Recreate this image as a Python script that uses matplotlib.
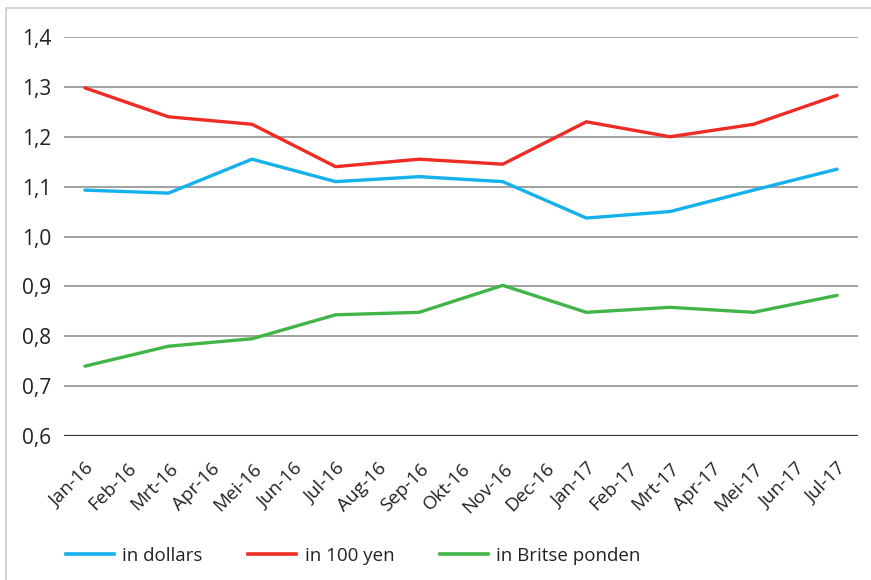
import matplotlib
matplotlib.use("Agg")
import matplotlib.pyplot as plt
from matplotlib.patches import Rectangle
from matplotlib.lines import Line2D

months = ["Jan-16", "Feb-16", "Mrt-16", "Apr-16", "Mei-16", "Jun-16", "Jul-16", "Aug-16",
          "Sep-16", "Okt-16", "Nov-16", "Dec-16", "Jan-17", "Feb-17", "Mrt-17", "Apr-17",
          "Mei-17", "Jun-17", "Jul-17"]
point_months = ["Jan-16", "Mrt-16", "Mei-16", "Jul-16", "Sep-16", "Nov-16",
                "Jan-17", "Mrt-17", "Mei-17", "Jul-17"]
dollars = [1.093, 1.087, 1.155, 1.110, 1.120, 1.110, 1.037, 1.050, 1.093, 1.135]
yen100 = [1.298, 1.240, 1.225, 1.140, 1.155, 1.145, 1.230, 1.200, 1.225, 1.283]
pounds = [0.740, 0.780, 0.795, 0.843, 0.848, 0.902, 0.848, 0.858, 0.848, 0.882]
yticks = [0.6, 0.7, 0.8, 0.9, 1.0, 1.1, 1.2, 1.3, 1.4]
series_names = ["in dollars", "in 100 yen", "in Britse ponden"]
colors = ["#14B1EC", "#EE2B24", "#42B549"]

plt.rcParams['font.family'] = ['Open Sans', 'DejaVu Sans']

W, H = 871, 580
fig = plt.figure(figsize=(W / 100, H / 100), dpi=100)
fig.patches.append(Rectangle((6 / W, -0.1), 1.2, 1 - 8 / H + 0.1, transform=fig.transFigure,
                             fill=False, edgecolor="#cccccc", linewidth=1.2))

ax = fig.add_axes([64 / W, 1 - 436 / H, (858 - 64) / W, (436 - 37) / H])
xi = {m: i for i, m in enumerate(months)}
xs = [xi[m] for m in point_months]
for vals, c, n in zip([dollars, yen100, pounds], colors, series_names):
    ax.plot(xs, vals, color=c, linewidth=2.4, solid_capstyle="round", label=n, zorder=3)

ax.set_xlim(-0.5, len(months) - 0.5)
ax.set_ylim(0.6, 1.4)
ax.set_yticks(yticks)
ax.set_yticklabels([f"{v:.1f}".replace(".", ",") for v in yticks], fontsize=15, color="#222222")
ax.set_xticks(range(len(months)))
ax.set_xticklabels(months, rotation=45, ha="right", va="top", rotation_mode="anchor",
                   fontsize=13.5, color="#222222")
ax.tick_params(axis="both", length=0)
ax.tick_params(axis="y", pad=9)
ax.tick_params(axis="x", pad=17)
for s in ax.spines.values():
    s.set_visible(False)
ax.grid(axis="y", color="#9a9a9a", linewidth=1.3)
ax.axhline(0.6, color="#333333", linewidth=1.6, zorder=2)
ax.set_axisbelow(True)

handles = [Line2D([0], [0], color=c, linewidth=2.6) for c in colors]
fig.legend(handles, series_names, loc="center left", bbox_to_anchor=(49 / W, 1 - 556 / H),
           ncol=3, frameon=False, fontsize=13.5, handlelength=2.55, columnspacing=2.45,
           handletextpad=0.45, labelcolor="#222222")

fig.savefig("out.png", dpi=100)
